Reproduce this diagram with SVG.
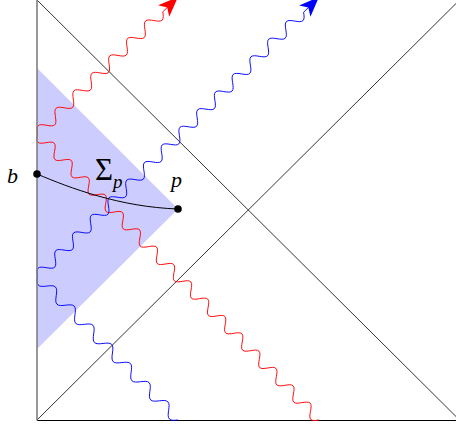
<svg xmlns="http://www.w3.org/2000/svg" width="456" height="428" viewBox="0 0 456 428">
<style>
.frame{stroke:#000;stroke-width:0.8;fill:none}
.wall{stroke:#7f7f7f;stroke-width:1.6;fill:none}
.wave{fill:none;stroke-width:0.95;vector-effect:non-scaling-stroke}
.red{stroke:#ff0000}
.blue{stroke:#0000ff}
.lbl{font-family:"Liberation Serif","Times New Roman",serif;fill:#000}
.it{font-style:italic}
</style>
<defs>
<marker id="ahR" markerUnits="userSpaceOnUse" orient="auto" viewBox="-21 -9 21 18" markerWidth="21" markerHeight="18" refX="-12" refY="0">
<path d="M0,0 L-20,-8 L-15,0 L-20,8 Z" fill="#ff0000"/>
</marker>
<marker id="ahB" markerUnits="userSpaceOnUse" orient="auto" viewBox="-21 -9 21 18" markerWidth="21" markerHeight="18" refX="-12" refY="0">
<path d="M0,0 L-20,-8 L-15,0 L-20,8 Z" fill="#0000ff"/>
</marker>
</defs>
<polygon id="region" points="37,68 178,209 37,349" fill="#ccccff"/>
<g id="connectors">
<line class="frame" x1="37" y1="0" x2="456" y2="416.5"/>
<line class="frame" x1="37" y1="420" x2="456" y2="3.5"/>
<line class="frame" x1="37" y1="420.5" x2="456" y2="420.5" style="stroke-width:1.2"/>
<g transform="translate(37.5,134) rotate(45.45) scale(0.9728,1)">
<path class="wave red" d="M0,0 c2.04,2.82 3.99,5.5 6.25,5.5 s4.21,-2.68 6.25,-5.5 s3.99,-5.5 6.25,-5.5 s4.21,2.68 6.25,5.5
s3.99,5.5 6.25,5.5 s4.21,-2.68 6.25,-5.5 s3.99,-5.5 6.25,-5.5 s4.21,2.68 6.25,5.5
s3.99,5.5 6.25,5.5 s4.21,-2.68 6.25,-5.5 s3.99,-5.5 6.25,-5.5 s4.21,2.68 6.25,5.5
s3.99,5.5 6.25,5.5 s4.21,-2.68 6.25,-5.5 s3.99,-5.5 6.25,-5.5 s4.21,2.68 6.25,5.5
s3.99,5.5 6.25,5.5 s4.21,-2.68 6.25,-5.5 s3.99,-5.5 6.25,-5.5 s4.21,2.68 6.25,5.5
s3.99,5.5 6.25,5.5 s4.21,-2.68 6.25,-5.5 s3.99,-5.5 6.25,-5.5 s4.21,2.68 6.25,5.5
s3.99,5.5 6.25,5.5 s4.21,-2.68 6.25,-5.5 s3.99,-5.5 6.25,-5.5 s4.21,2.68 6.25,5.5
s3.99,5.5 6.25,5.5 s4.21,-2.68 6.25,-5.5 s3.99,-5.5 6.25,-5.5 s4.21,2.68 6.25,5.5
s3.99,5.5 6.25,5.5 s4.21,-2.68 6.25,-5.5 s3.99,-5.5 6.25,-5.5 s4.21,2.68 6.25,5.5
s3.99,5.5 6.25,5.5 s4.21,-2.68 6.25,-5.5 s3.99,-5.5 6.25,-5.5 s4.21,2.68 6.25,5.5
s3.99,5.5 6.25,5.5 s4.21,-2.68 6.25,-5.5 s3.99,-5.5 6.25,-5.5 s4.21,2.68 6.25,5.5
s3.99,5.5 6.25,5.5 s4.21,-2.68 6.25,-5.5 s3.99,-5.5 6.25,-5.5 s4.21,2.68 6.25,5.5
s3.99,5.5 6.25,5.5 s4.21,-2.68 6.25,-5.5 s3.99,-5.5 6.25,-5.5 s4.21,2.68 6.25,5.5
s3.99,5.5 6.25,5.5 s4.21,-2.68 6.25,-5.5 s3.99,-5.5 6.25,-5.5 s4.21,2.68 6.25,5.5
s3.99,5.5 6.25,5.5 s4.21,-2.68 6.25,-5.5 s3.99,-5.5 6.25,-5.5 s4.21,2.68 6.25,5.5
s3.99,5.5 6.25,5.5 s4.21,-2.68 6.25,-5.5 s3.99,-5.5 6.25,-5.5 s4.21,2.68 6.25,5.5
s3.99,5.5 6.25,5.5 s4.21,-2.68 6.25,-5.5"/>
</g>
<g transform="translate(37.5,134) rotate(-44.28) scale(1,-1)">
<path class="wave red" marker-end="url(#ahR)" d="M0,0 c2.04,2.82 3.99,5.5 6.25,5.5 s4.21,-2.68 6.25,-5.5 s3.99,-5.5 6.25,-5.5 s4.21,2.68 6.25,5.5
s3.99,5.5 6.25,5.5 s4.21,-2.68 6.25,-5.5 s3.99,-5.5 6.25,-5.5 s4.21,2.68 6.25,5.5
s3.99,5.5 6.25,5.5 s4.21,-2.68 6.25,-5.5 s3.99,-5.5 6.25,-5.5 s4.21,2.68 6.25,5.5
s3.99,5.5 6.25,5.5 s4.21,-2.68 6.25,-5.5 s3.99,-5.5 6.25,-5.5 s4.21,2.68 6.25,5.5
s3.99,5.5 6.25,5.5 s4.21,-2.68 6.25,-5.5 s3.99,-5.5 6.25,-5.5 s4.21,2.68 6.25,5.5
s3.99,5.5 6.25,5.5 s4.21,-2.68 6.25,-5.5 s3.99,-5.5 6.25,-5.5 s4.21,2.68 6.25,5.5
s3.99,5.5 6.25,5.5 s4.21,-2.68 6.25,-5.5 s3.99,-5.5 6.25,-5.5 s4.21,2.68 6.25,5.5
L184.2,0"/>
</g>
<g transform="translate(37.5,276.5) rotate(45.6) scale(1.0709,1)">
<path class="wave blue" d="M0,0 c2.04,2.82 3.99,5.5 6.25,5.5 s4.21,-2.68 6.25,-5.5 s3.99,-5.5 6.25,-5.5 s4.21,2.68 6.25,5.5
s3.99,5.5 6.25,5.5 s4.21,-2.68 6.25,-5.5 s3.99,-5.5 6.25,-5.5 s4.21,2.68 6.25,5.5
s3.99,5.5 6.25,5.5 s4.21,-2.68 6.25,-5.5 s3.99,-5.5 6.25,-5.5 s4.21,2.68 6.25,5.5
s3.99,5.5 6.25,5.5 s4.21,-2.68 6.25,-5.5 s3.99,-5.5 6.25,-5.5 s4.21,2.68 6.25,5.5
s3.99,5.5 6.25,5.5 s4.21,-2.68 6.25,-5.5 s3.99,-5.5 6.25,-5.5 s4.21,2.68 6.25,5.5
s3.99,5.5 6.25,5.5 s4.21,-2.68 6.25,-5.5 s3.99,-5.5 6.25,-5.5 s4.21,2.68 6.25,5.5
s3.99,5.5 6.25,5.5 s4.21,-2.68 6.25,-5.5 s3.99,-5.5 6.25,-5.5 s4.21,2.68 6.25,5.5
s3.99,5.5 6.25,5.5 s4.21,-2.68 6.25,-5.5"/>
</g>
<g transform="translate(37.5,276.5) rotate(-44.8) scale(1,-1)">
<path class="wave blue" marker-end="url(#ahB)" d="M0,0 c2.04,2.82 3.99,5.5 6.25,5.5 s4.21,-2.68 6.25,-5.5 s3.99,-5.5 6.25,-5.5 s4.21,2.68 6.25,5.5
s3.99,5.5 6.25,5.5 s4.21,-2.68 6.25,-5.5 s3.99,-5.5 6.25,-5.5 s4.21,2.68 6.25,5.5
s3.99,5.5 6.25,5.5 s4.21,-2.68 6.25,-5.5 s3.99,-5.5 6.25,-5.5 s4.21,2.68 6.25,5.5
s3.99,5.5 6.25,5.5 s4.21,-2.68 6.25,-5.5 s3.99,-5.5 6.25,-5.5 s4.21,2.68 6.25,5.5
s3.99,5.5 6.25,5.5 s4.21,-2.68 6.25,-5.5 s3.99,-5.5 6.25,-5.5 s4.21,2.68 6.25,5.5
s3.99,5.5 6.25,5.5 s4.21,-2.68 6.25,-5.5 s3.99,-5.5 6.25,-5.5 s4.21,2.68 6.25,5.5
s3.99,5.5 6.25,5.5 s4.21,-2.68 6.25,-5.5 s3.99,-5.5 6.25,-5.5 s4.21,2.68 6.25,5.5
s3.99,5.5 6.25,5.5 s4.21,-2.68 6.25,-5.5 s3.99,-5.5 6.25,-5.5 s4.21,2.68 6.25,5.5
s3.99,5.5 6.25,5.5 s4.21,-2.68 6.25,-5.5 s3.99,-5.5 6.25,-5.5 s4.21,2.68 6.25,5.5
s3.99,5.5 6.25,5.5 s4.21,-2.68 6.25,-5.5 s3.99,-5.5 6.25,-5.5 s4.21,2.68 6.25,5.5
s3.99,5.5 6.25,5.5 s4.21,-2.68 6.25,-5.5 s3.99,-5.5 6.25,-5.5 s4.21,2.68 6.25,5.5
s3.99,5.5 6.25,5.5 s4.21,-2.68 6.25,-5.5 s3.99,-5.5 6.25,-5.5 s4.21,2.68 6.25,5.5
s3.99,5.5 6.25,5.5 s4.21,-2.68 6.25,-5.5 s3.99,-5.5 6.25,-5.5 s4.21,2.68 6.25,5.5
s3.99,5.5 6.25,5.5 s4.21,-2.68 6.25,-5.5 s3.99,-5.5 6.25,-5.5 s4.21,2.68 6.25,5.5
s3.99,5.5 6.25,5.5 s4.21,-2.68 6.25,-5.5 s3.99,-5.5 6.25,-5.5 s4.21,2.68 6.25,5.5
L384.7,0"/>
</g>
<path id="sigma-curve" d="M37,174 C70,188 120,207 178,209" fill="none" stroke="#000" stroke-width="1"/>
<line class="wall" x1="37" y1="0" x2="37" y2="420.5"/>
</g>
<g id="node-b">
<circle cx="37" cy="174" r="3.8" fill="#000"/>
<text class="lbl it" x="7" y="183" font-size="22">b</text>
</g>
<g id="node-p">
<circle cx="178" cy="209" r="3.8" fill="#000"/>
<text class="lbl it" x="171" y="187" font-size="22">p</text>
</g>
<g id="label-sigma">
<text class="lbl" x="95" y="180" font-size="31">Σ<tspan class="it" font-size="19" dy="8">p</tspan></text>
</g>
</svg>
